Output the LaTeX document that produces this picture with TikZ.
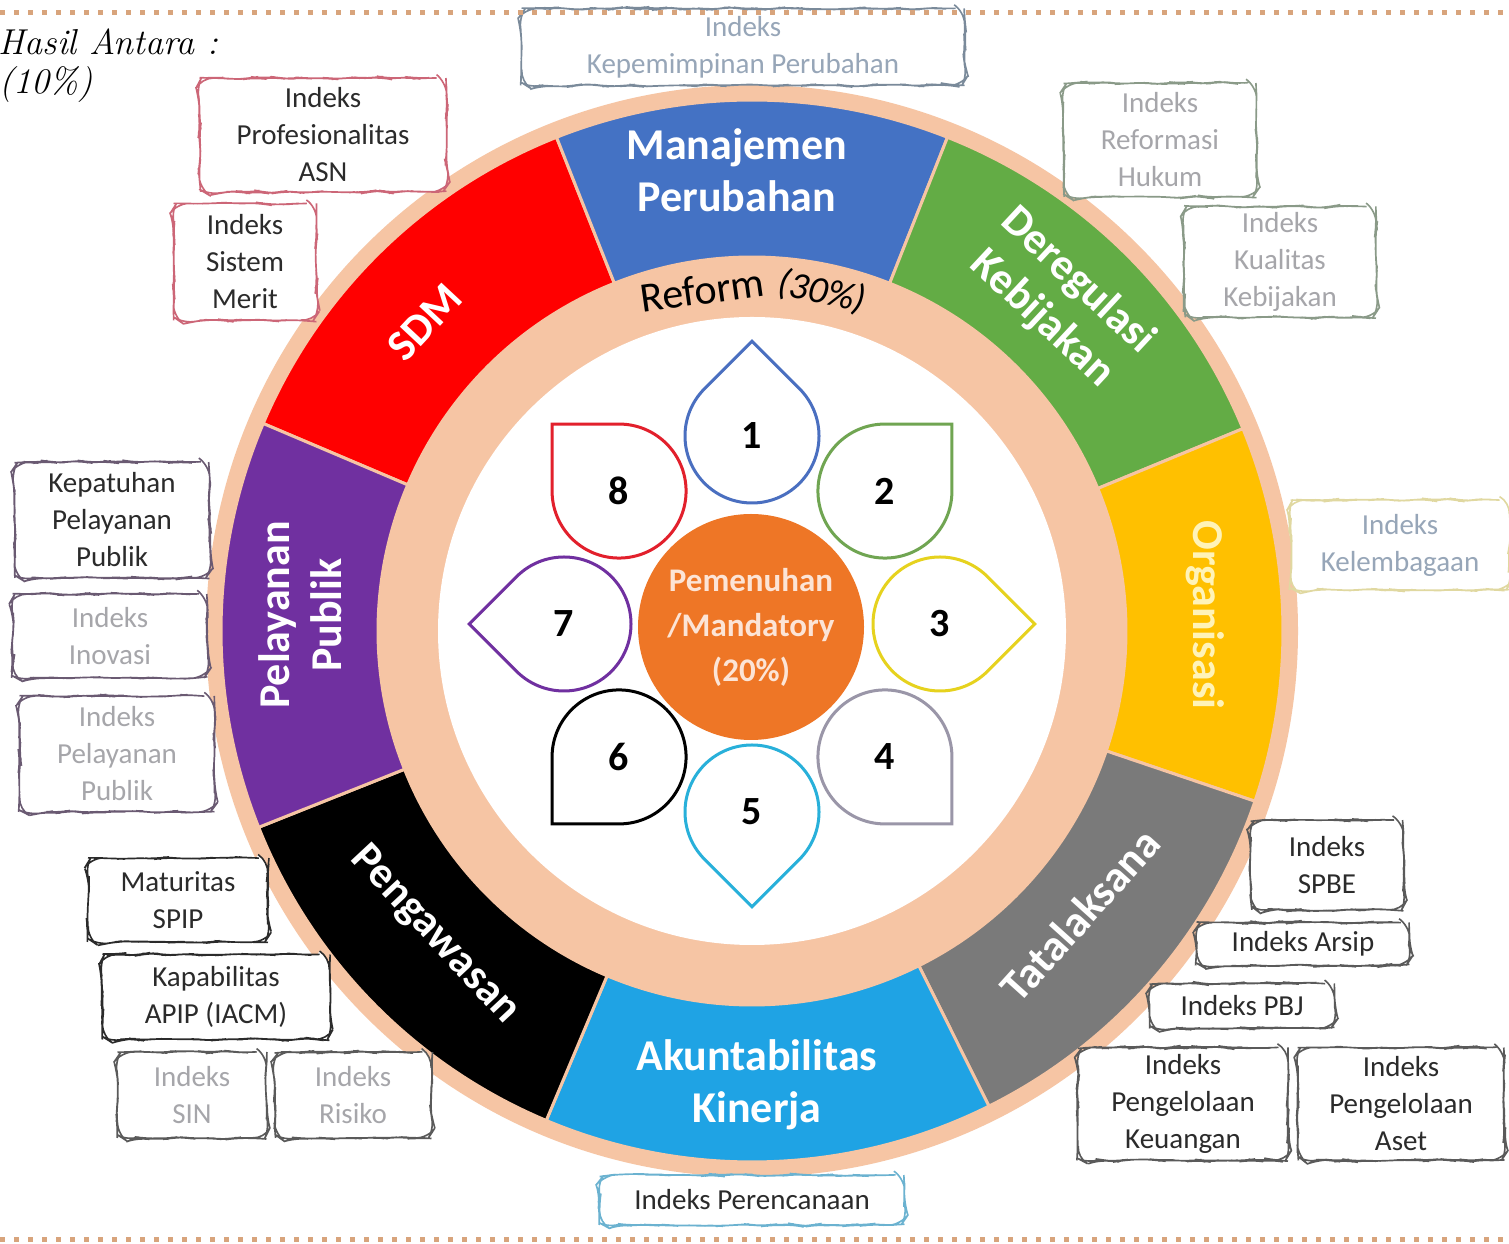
\documentclass[tikz,border=0pt]{standalone}
\usepackage{fontspec}
\newfontfamily\carlito{Carlito}
\usetikzlibrary{calc,decorations.pathmorphing}
\definecolor{ringpeach}{HTML}{F6C5A4}
\definecolor{sdmred}{HTML}{FF0000}
\definecolor{mpblue}{HTML}{4472C4}
\definecolor{dkgreen}{HTML}{63AC45}
\definecolor{orgyellow}{HTML}{FFC000}
\definecolor{orgtext}{HTML}{FFF3B8}
\definecolor{tlgray}{HTML}{7A7A7A}
\definecolor{akblue}{HTML}{1FA3E4}
\definecolor{plpurple}{HTML}{7030A0}
\definecolor{corange}{HTML}{EE7626}
\definecolor{centertext}{HTML}{FCE4D6}
\definecolor{dotline}{HTML}{D8A47C}
\definecolor{inkdark}{HTML}{2B2B2B}
\definecolor{inkfaint}{HTML}{A6A6AA}
\definecolor{inkfaintblue}{HTML}{97A6B8}
\definecolor{petalblue}{HTML}{4A6FC0}
\definecolor{petalgreen}{HTML}{70A552}
\definecolor{petalyellow}{HTML}{E6D21E}
\definecolor{petalgray}{HTML}{9A96A8}
\definecolor{petalcyan}{HTML}{28B0DA}
\definecolor{petalred}{HTML}{E2202C}
\definecolor{edgeblue}{HTML}{7A8A9A}
\definecolor{edgerose}{HTML}{CC6677}
\definecolor{edgegreen}{HTML}{8A9A88}
\definecolor{edgeyellow}{HTML}{E0D8A0}
\definecolor{edgeplum}{HTML}{6A5A72}
\definecolor{edgegray}{HTML}{5A5A5A}
\definecolor{edgecyan}{HTML}{6BB2D0}
\def\ringseg[#1](#2:#3){\draw[#1] ($(W)+(#2:531pt)$) arc[start angle=#2, end angle=#3, radius=531pt] -- ($(W)+(#3:374pt)$) arc[start angle=#3, end angle=#2, radius=374pt] -- cycle;}
\tikzset{
	box/.style={draw, fill=white, line width=1.6pt, rounded corners=12pt, align=center, inner sep=3pt,
		decorate, decoration={random steps, segment length=9pt, amplitude=1.1pt},
		text=inkdark, font=\carlito\fontsize{29}{37}\selectfont},
	dim/.style={text=inkfaint},
	seglabel/.style={align=center, text=white, font=\carlito\bfseries\fontsize{44}{52}\selectfont},
	petalnum/.style={text=black, font=\carlito\bfseries\fontsize{40}{42}\selectfont},
	handtext/.style={anchor=west, font=\itshape\fontsize{36}{38}\selectfont}
}

\begin{document}
\begin{tikzpicture}[x=1pt, y=1pt]
		%%%%% START %%%%%
		\pgfmathsetseed{7}
		\useasboundingbox (0,0) rectangle (1509,1244);
		\fill[white] (0,0) rectangle (1509,1244);
		
		\node[handtext] (hasil) at (-5,1202) {Hasil Antara :};
		\node[handtext] (sepuluh) at (-4,1159) {(10\%)};
		
		% wheel
		\coordinate (W) at (752,613);
		\coordinate (F) at (752,620);
		\fill[ringpeach] (W) circle[radius=546pt];
		\foreach \a/\b/\col in {111.6/157/sdmred, 68.4/111.6/mpblue, 22.4/68.4/dkgreen, -18.7/22.4/orgyellow,
			-63.5/-18.7/tlgray, -112.8/-63.5/akblue, -158.3/-112.8/black, 157/201.7/plpurple}
			\ringseg[fill=\col, draw=ringpeach, line width=3pt](\a:\b);
		\fill[white] (W) circle[radius=314pt];
		
		\node[seglabel] (mp) at (737,1074) {Manajemen\\Perubahan};
		\node[seglabel, rotate=-43] (dk) at (1060,944) {Deregulasi\\Kebijakan};
		\node[seglabel, rotate=-90, text=orgtext] (org) at (1205,629) {Organisasi};
		\node[seglabel, rotate=48] (tl) at (1080,329) {Tatalaksana};
		\node[seglabel] (ak) at (757,159) {Akuntabilitas\\Kinerja};
		\node[seglabel, rotate=-47] (pw) at (435,309) {Pengawasan};
		\node[seglabel, rotate=90] (pl) at (300,629) {Pelayanan\\Publik};
		\node[seglabel, rotate=47] (sdm) at (425,922) {SDM};
		
		\node[rotate=8, font=\carlito\fontsize{42}{44}\selectfont] (reform) at (702,954) {Reform};
		\node[rotate=-12, font=\carlito\itshape\fontsize{38}{40}\selectfont] (bobot) at (822,952) {(30\%)};
		
		% petals
		\foreach \n/\ang/\col in {1/90/petalblue, 2/45/petalgreen, 3/0/petalyellow, 4/-45/petalgray,
			5/-90/petalcyan, 6/-135/black, 7/180/plpurple, 8/135/petalred}{
			\begin{scope}[shift={(F)}, rotate=\ang]
				\draw[line width=3pt, draw=\col, fill=white] (188,0) ++(45:67pt) arc[start angle=45, end angle=315, radius=67pt] -- (282.75,0) -- cycle;
				\node[petalnum] (n\n) at (188,0) {\n};
			\end{scope}
		}
		
		\node[circle, fill=corange, minimum size=226pt, inner sep=0pt, align=center, text=centertext,
			font=\carlito\bfseries\fontsize{33}{45}\selectfont] (mandat) at (751,617) {Pemenuhan\\/Mandatory\\(20\%)};
		
		% indeks boxes
		\node[box, draw=edgeblue, text=inkfaintblue, minimum width=443pt, minimum height=77pt] (kepem) at (743,1197) {Indeks\\Kepemimpinan Perubahan};
		\node[box, draw=edgerose, minimum width=247pt, minimum height=114pt] (prof) at (323,1109) {Indeks\\Profesionalitas\\ASN};
		\node[box, draw=edgerose, minimum width=143pt, minimum height=117pt] (merit) at (245,982) {Indeks\\Sistem\\Merit};
		\node[box, dim, draw=edgegreen, minimum width=193pt, minimum height=114pt] (hukum) at (1160,1104) {Indeks\\Reformasi\\Hukum};
		\node[box, dim, draw=edgegreen, minimum width=192pt, minimum height=111pt] (kualitas) at (1280,982) {Indeks\\Kualitas\\Kebijakan};
		\node[box, text=inkfaintblue, draw=edgeyellow, minimum width=219pt, minimum height=90pt] (lembaga) at (1400,699) {Indeks\\Kelembagaan};
		\node[box, draw=edgeplum, minimum width=195pt, minimum height=116pt] (patuh) at (112,724) {Kepatuhan\\Pelayanan\\Publik};
		\node[box, dim, draw=edgeplum, minimum width=195pt, minimum height=84pt] (inovasi) at (110,608) {Indeks\\Inovasi};
		\node[box, dim, draw=edgeplum, minimum width=195pt, minimum height=116pt] (layanan) at (117,490) {Indeks\\Pelayanan\\Publik};
		\node[box, draw=inkdark, minimum width=180pt, minimum height=84pt] (spip) at (178,344) {Maturitas\\SPIP};
		\node[box, draw=inkdark, minimum width=227pt, minimum height=85pt] (apip) at (216,247) {Kapabilitas\\APIP (IACM)};
		\node[box, dim, draw=edgegray, minimum width=149pt, minimum height=86pt] (sin) at (192,149) {Indeks\\SIN};
		\node[box, dim, draw=edgegray, minimum width=157pt, minimum height=86pt] (risiko) at (353,149) {Indeks\\Risiko};
		\node[box, draw=edgegray, minimum width=153pt, minimum height=90pt] (spbe) at (1327,379) {Indeks\\SPBE};
		\node[box, draw=edgegray, minimum width=213pt, minimum height=43pt] (arsip) at (1303,300) {Indeks Arsip};
		\node[box, draw=edgegray, minimum width=185pt, minimum height=45pt] (pbj) at (1242,238) {Indeks PBJ};
		\node[box, draw=edgegray, minimum width=210pt, minimum height=113pt] (keuangan) at (1183,140) {Indeks\\Pengelolaan\\Keuangan};
		\node[box, draw=edgegray, minimum width=207pt, minimum height=113pt] (aset) at (1401,140) {Indeks\\Pengelolaan\\Aset};
		\node[box, draw=edgecyan, minimum width=305pt, minimum height=50pt] (rencana) at (752,44) {Indeks Perencanaan};
		
		% dotted frame lines
		\draw[dotline, line width=5pt, dash pattern=on 5pt off 9pt] (0,1231) -- (1509,1231);
		\draw[dotline, line width=5pt, dash pattern=on 5pt off 9pt] (0,4) -- (1509,4);
		%%%%% END %%%%%
\end{tikzpicture}
\end{document}
